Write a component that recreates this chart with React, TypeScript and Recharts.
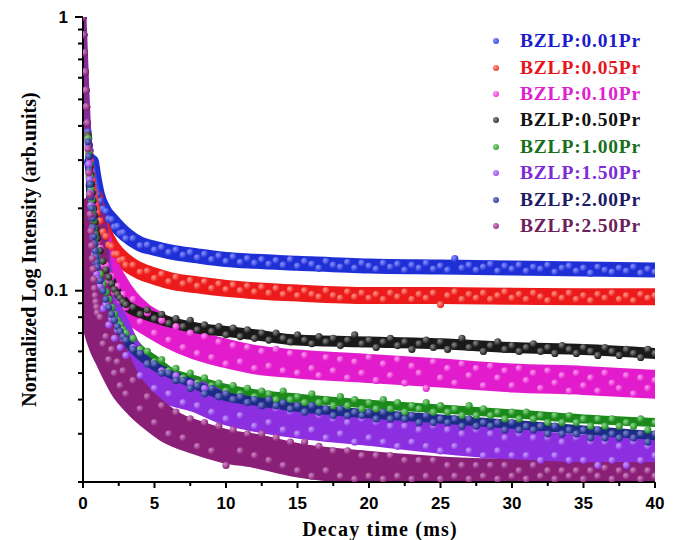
import React from 'react';
import { ComposedChart, Scatter, Line, XAxis, YAxis, Legend } from 'recharts';

// sampling times (ms) of the decay curves
const TIMES = [
  0, 0.05, 0.1, 0.15, 0.2, 0.25, 0.3, 0.35, 0.4, 0.45, 0.5, 0.55, 0.6, 0.65, 0.7, 0.75, 0.8, 0.85, 0.9, 0.95, 1,
  1.2, 1.4, 1.6, 1.8, 2, 2.2, 2.4, 2.6, 2.8, 3,
  3.5, 4, 4.5, 5, 5.5, 6, 6.5, 7, 7.5, 8,
  8.5, 9, 9.5, 10, 10.5, 11, 11.5, 12, 12.5, 13,
  13.5, 14, 14.5, 15, 15.5, 16, 16.5, 17, 17.5, 18,
  18.5, 19, 19.5, 20, 20.5, 21, 21.5, 22, 22.5, 23,
  23.5, 24, 24.5, 25, 25.5, 26, 26.5, 27, 27.5, 28,
  28.5, 29, 29.5, 30, 30.5, 31, 31.5, 32, 32.5, 33,
  33.5, 34, 34.5, 35, 35.5, 36, 36.5, 37, 37.5, 38,
  38.5, 39, 39.5, 40,
];

// all samples share the same first fast drop
const EARLY_DECAY = [1, 0.86, 0.74, 0.63, 0.54, 0.47, 0.41];

const PR_001 = [
  ...EARLY_DECAY,
  0.38, 0.36, 0.34, 0.325, 0.31, 0.295, 0.283, 0.272, 0.262, 0.253, 0.245, 0.238, 0.231, 0.225,
  0.213, 0.199, 0.195, 0.183, 0.182, 0.171, 0.172, 0.162, 0.163, 0.155,
  0.155, 0.146, 0.147, 0.141, 0.144, 0.138, 0.141, 0.135, 0.138, 0.132,
  0.136, 0.13, 0.134, 0.128, 0.133, 0.127, 0.131, 0.126, 0.13, 0.125,
  0.129, 0.124, 0.13, 0.123, 0.128, 0.125, 0.121, 0.128, 0.124, 0.122,
  0.127, 0.121, 0.126, 0.123, 0.12, 0.126, 0.122, 0.125, 0.119, 0.124,
  0.121, 0.126, 0.12, 0.123, 0.119, 0.131, 0.121, 0.124, 0.119, 0.122,
  0.125, 0.118, 0.123, 0.12, 0.124, 0.118, 0.122, 0.12, 0.124, 0.117,
  0.121, 0.123, 0.118, 0.121, 0.116, 0.122, 0.119, 0.117, 0.121, 0.118,
  0.122, 0.116, 0.12, 0.117,
];

const PR_005 = [
  ...EARLY_DECAY,
  0.37, 0.345, 0.32, 0.3, 0.282, 0.266, 0.252, 0.24, 0.23, 0.22, 0.212, 0.205, 0.199, 0.193,
  0.18, 0.164, 0.158, 0.147, 0.145, 0.136, 0.136, 0.129, 0.13, 0.124,
  0.124, 0.117, 0.118, 0.111, 0.115, 0.108, 0.112, 0.106, 0.109, 0.104,
  0.108, 0.102, 0.106, 0.101, 0.105, 0.1, 0.104, 0.099, 0.103, 0.098,
  0.102, 0.097, 0.101, 0.096, 0.1, 0.097, 0.095, 0.1, 0.096, 0.094,
  0.099, 0.095, 0.098, 0.094, 0.097, 0.093, 0.098, 0.095, 0.099, 0.093,
  0.097, 0.094, 0.098, 0.089, 0.096, 0.099, 0.093, 0.097, 0.094, 0.098,
  0.093, 0.096, 0.099, 0.094, 0.097, 0.093, 0.098, 0.095, 0.092, 0.097,
  0.094, 0.098, 0.093, 0.096, 0.092, 0.097, 0.094, 0.098, 0.093, 0.096,
  0.092, 0.097, 0.094, 0.096,
];

const PR_010 = [
  ...EARLY_DECAY,
  0.36, 0.33, 0.305, 0.28, 0.26, 0.24, 0.222, 0.207, 0.194, 0.183, 0.173, 0.165, 0.158, 0.152,
  0.143, 0.124, 0.124, 0.109, 0.113, 0.099, 0.104, 0.092, 0.097, 0.087,
  0.093, 0.077, 0.083, 0.07, 0.078, 0.066, 0.074, 0.062, 0.07, 0.059,
  0.068, 0.057, 0.065, 0.054, 0.063, 0.055, 0.062, 0.052, 0.06, 0.053,
  0.061, 0.051, 0.059, 0.05, 0.058, 0.052, 0.049, 0.057, 0.051, 0.056,
  0.048, 0.055, 0.05, 0.057, 0.047, 0.054, 0.049, 0.056, 0.046, 0.053,
  0.05, 0.044, 0.055, 0.048, 0.052, 0.046, 0.054, 0.049, 0.052, 0.045,
  0.053, 0.048, 0.051, 0.045, 0.052, 0.047, 0.05, 0.044, 0.051, 0.046,
  0.049, 0.043, 0.05, 0.045, 0.048, 0.043, 0.05, 0.046, 0.044, 0.049,
  0.042, 0.048, 0.044, 0.047,
];

const PR_050 = [
  ...EARLY_DECAY,
  0.37, 0.34, 0.31, 0.285, 0.265, 0.245, 0.228, 0.213, 0.2, 0.188, 0.178, 0.169, 0.161, 0.155,
  0.14, 0.128, 0.119, 0.112, 0.106, 0.101, 0.097, 0.094, 0.091, 0.089,
  0.087, 0.082, 0.085, 0.079, 0.082, 0.076, 0.079, 0.074, 0.078, 0.072,
  0.075, 0.071, 0.074, 0.069, 0.073, 0.068, 0.072, 0.067, 0.07, 0.066,
  0.07, 0.067, 0.065, 0.069, 0.066, 0.064, 0.068, 0.065, 0.067, 0.063,
  0.066, 0.069, 0.064, 0.066, 0.062, 0.065, 0.067, 0.063, 0.065, 0.061,
  0.064, 0.066, 0.062, 0.065, 0.061, 0.063, 0.067, 0.062, 0.064, 0.06,
  0.063, 0.065, 0.061, 0.063, 0.06, 0.062, 0.064, 0.06, 0.062, 0.059,
  0.063, 0.061, 0.059, 0.062, 0.06, 0.058, 0.062, 0.06, 0.058, 0.061,
  0.059, 0.057, 0.061, 0.059,
];

const PR_100 = [
  ...EARLY_DECAY,
  0.36, 0.32, 0.29, 0.26, 0.235, 0.215, 0.197, 0.182, 0.169, 0.158, 0.148, 0.14, 0.133, 0.127,
  0.115, 0.106, 0.099, 0.093, 0.087, 0.082, 0.078, 0.075, 0.072, 0.07,
  0.067, 0.061, 0.06, 0.055, 0.056, 0.051, 0.052, 0.048, 0.05, 0.046,
  0.048, 0.045, 0.046, 0.043, 0.045, 0.042, 0.044, 0.041, 0.043, 0.042,
  0.04, 0.043, 0.04, 0.041, 0.039, 0.042, 0.039, 0.04, 0.038, 0.041,
  0.038, 0.04, 0.037, 0.039, 0.037, 0.04, 0.037, 0.039, 0.036, 0.038,
  0.037, 0.039, 0.036, 0.038, 0.036, 0.037, 0.035, 0.038, 0.035, 0.037,
  0.035, 0.036, 0.034, 0.036, 0.034, 0.036, 0.034, 0.035, 0.033, 0.035,
  0.033, 0.035, 0.033, 0.034, 0.032, 0.034, 0.032, 0.034, 0.032, 0.033,
  0.032, 0.034, 0.031, 0.033,
];

const PR_150 = [
  ...EARLY_DECAY,
  0.34, 0.29, 0.255, 0.228, 0.205, 0.186, 0.17, 0.157, 0.146, 0.136, 0.128, 0.121, 0.115, 0.11,
  0.104, 0.086, 0.089, 0.075, 0.079, 0.067, 0.072, 0.062, 0.067, 0.058,
  0.062, 0.049, 0.054, 0.044, 0.051, 0.042, 0.049, 0.039, 0.046, 0.038,
  0.044, 0.036, 0.041, 0.034, 0.04, 0.035, 0.039, 0.032, 0.038, 0.033,
  0.037, 0.031, 0.036, 0.03, 0.036, 0.031, 0.035, 0.029, 0.034, 0.03,
  0.033, 0.028, 0.034, 0.029, 0.033, 0.028, 0.032, 0.027, 0.032, 0.028,
  0.031, 0.027, 0.032, 0.026, 0.031, 0.027, 0.03, 0.026, 0.031, 0.025,
  0.03, 0.026, 0.029, 0.025, 0.03, 0.025, 0.029, 0.024, 0.029, 0.025,
  0.028, 0.024, 0.029, 0.024, 0.028, 0.023, 0.028, 0.024, 0.027, 0.023,
  0.028, 0.024, 0.027, 0.025,
];

const PR_200 = [
  ...EARLY_DECAY,
  0.35, 0.31, 0.275, 0.245, 0.22, 0.2, 0.184, 0.17, 0.158, 0.148, 0.14, 0.133, 0.127, 0.122,
  0.109, 0.1, 0.093, 0.087, 0.082, 0.078, 0.074, 0.071, 0.068, 0.066,
  0.061, 0.059, 0.054, 0.054, 0.05, 0.05, 0.047, 0.047, 0.044, 0.045,
  0.042, 0.044, 0.041, 0.042, 0.04, 0.041, 0.039, 0.04, 0.038, 0.04,
  0.038, 0.039, 0.037, 0.038, 0.036, 0.038, 0.036, 0.037, 0.035, 0.037,
  0.035, 0.036, 0.035, 0.036, 0.034, 0.036, 0.034, 0.035, 0.034, 0.035,
  0.033, 0.035, 0.033, 0.034, 0.033, 0.034, 0.032, 0.034, 0.032, 0.033,
  0.032, 0.033, 0.031, 0.033, 0.031, 0.032, 0.031, 0.032, 0.03, 0.032,
  0.03, 0.031, 0.03, 0.031, 0.029, 0.031, 0.029, 0.03, 0.029, 0.03,
  0.029, 0.03, 0.028, 0.03,
];

const PR_250 = [
  ...EARLY_DECAY,
  0.33, 0.27, 0.225, 0.19, 0.165, 0.146, 0.131, 0.12, 0.11, 0.102, 0.096, 0.091, 0.087, 0.083,
  0.08, 0.064, 0.068, 0.056, 0.061, 0.05, 0.055, 0.045, 0.051, 0.042,
  0.047, 0.037, 0.041, 0.033, 0.038, 0.03, 0.036, 0.029, 0.034, 0.027,
  0.033, 0.026, 0.032, 0.023, 0.031, 0.026, 0.03, 0.025, 0.03, 0.024,
  0.029, 0.023, 0.028, 0.022, 0.028, 0.021, 0.027, 0.022, 0.026, 0.021,
  0.026, 0.0205, 0.025, 0.021, 0.025, 0.0205, 0.025, 0.021, 0.024, 0.0205,
  0.024, 0.021, 0.024, 0.0205, 0.023, 0.021, 0.023, 0.0205, 0.023, 0.021,
  0.023, 0.0205, 0.023, 0.021, 0.022, 0.0205, 0.023, 0.021, 0.022, 0.0205,
  0.022, 0.021, 0.022, 0.0205, 0.022, 0.021, 0.0225, 0.0205, 0.022, 0.021,
  0.022, 0.0205, 0.022, 0.021,
];

// the shared steep drop, where all the bands lie on top of each other
const STRIP_TIMES = [0, 0.1, 0.2, 0.3, 0.4];
const STRIP_VALUES = [1, 0.74, 0.54, 0.41, 0.33];

// centre of each dense band of points, read at a few times (null: band not yet apart from the strip)
const BAND_TIMES = [0.4, 0.5, 0.6, 0.8, 1, 1.5, 2, 3, 4, 5, 6, 8, 10, 12, 15, 20, 25, 30, 35, 40];
const BAND_001 = [null, null, 0.295, 0.253, 0.225, 0.195, 0.181, 0.16, 0.148, 0.143, 0.139, 0.134, 0.13, 0.128, 0.126, 0.123, 0.122, 0.121, 0.12, 0.119];
const BAND_005 = [null, null, null, 0.22, 0.193, 0.16, 0.144, 0.127, 0.118, 0.113, 0.109, 0.105, 0.102, 0.1, 0.098, 0.096, 0.096, 0.0955, 0.095, 0.095];
const BAND_010 = [null, null, null, null, 0.152, 0.123, 0.109, 0.091, 0.081, 0.075, 0.07, 0.063, 0.059, 0.056, 0.054, 0.052, 0.05, 0.048, 0.047, 0.0455];
const BAND_050 = [null, null, 0.245, 0.188, 0.155, 0.123, 0.106, 0.089, 0.083, 0.08, 0.077, 0.073, 0.071, 0.069, 0.066, 0.065, 0.064, 0.062, 0.061, 0.059];
const BAND_100 = [null, 0.26, 0.215, 0.158, 0.127, 0.102, 0.087, 0.07, 0.061, 0.056, 0.051, 0.047, 0.044, 0.042, 0.0405, 0.0385, 0.037, 0.0355, 0.034, 0.033];
const BAND_150 = [null, null, 0.186, 0.136, 0.11, 0.087, 0.077, 0.06, 0.051, 0.047, 0.044, 0.041, 0.037, 0.035, 0.033, 0.031, 0.029, 0.0275, 0.026, 0.0255];
const BAND_200 = [null, 0.245, 0.2, 0.148, 0.122, 0.096, 0.082, 0.066, 0.058, 0.053, 0.05, 0.045, 0.041, 0.0395, 0.0375, 0.0355, 0.034, 0.0325, 0.031, 0.0295];
const BAND_250 = [null, 0.19, 0.146, 0.102, 0.083, 0.065, 0.057, 0.045, 0.039, 0.035, 0.032, 0.029, 0.027, 0.026, 0.024, 0.0225, 0.0215, 0.021, 0.0205, 0.0205];

const X_TICKS = [0, 2.5, 5, 7.5, 10, 12.5, 15, 17.5, 20, 22.5, 25, 27.5, 30, 32.5, 35, 37.5, 40];
const Y_TICKS = [0.02, 0.03, 0.04, 0.05, 0.06, 0.07, 0.08, 0.09, 0.1, 0.2, 0.3, 0.4, 0.5, 0.6, 0.7, 0.8, 0.9, 1];

const SERIES = [
  { name: 'BZLP:0.01Pr', values: PR_001, band: BAND_001, width: 15, color: '#1f2fd6', light: '#8c95ff', text: '#1c1ccc' },
  { name: 'BZLP:0.05Pr', values: PR_005, band: BAND_005, width: 17, color: '#ec1a1a', light: '#ff9a8a', text: '#e8141c' },
  { name: 'BZLP:0.10Pr', values: PR_010, band: BAND_010, width: 29, color: '#e21ccc', light: '#ff9cf0', text: '#e021d0' },
  { name: 'BZLP:0.50Pr', values: PR_050, band: BAND_050, width: 11, color: '#1a1a1a', light: '#8a8a8a', text: '#111111' },
  { name: 'BZLP:1.00Pr', values: PR_100, band: BAND_100, width: 9, color: '#1b8a1b', light: '#8fd88f', text: '#1a701a' },
  { name: 'BZLP:1.50Pr', values: PR_150, band: BAND_150, width: 32, color: '#8b2fe0', light: '#c9a0ff', text: '#7d2bd6' },
  { name: 'BZLP:2.00Pr', values: PR_200, band: BAND_200, width: 9, color: '#1c2b86', light: '#7f8ad0', text: '#1b1b66' },
  { name: 'BZLP:2.50Pr', values: PR_250, band: BAND_250, width: 34, color: '#8a1f78', light: '#d08ac4', text: '#6e1f5c' },
];

const SANS = '"Liberation Sans", Arial, sans-serif';
const SERIF = '"Liberation Serif", "Times New Roman", serif';

const toPoints = (times: number[], values: (number | null)[]) =>
  times.map((t, i) => ({ t, v: values[i] })).filter((p) => p.v != null);

const makeDot = (id: string) => (props: any) => {
  if (props.cx == null || props.cy == null) return <g />;
  return <circle cx={props.cx} cy={props.cy} r={3.6} fill={`url(#${id})`} />;
};

const XTick = ({ x, y, payload }: any) => {
  const major = payload.value % 5 === 0;
  return (
    <g>
      <line x1={x} x2={x} y1={y} y2={y + (major ? 6 : 4)} stroke="#000" strokeWidth={2} />
      {major && (
        <text x={x} y={y + 21.5} textAnchor="middle" dominantBaseline="central"
          fontFamily={SANS} fontWeight="bold" fontSize={17} fill="#000">
          {payload.value}
        </text>
      )}
    </g>
  );
};

const YTick = ({ x, y, payload }: any) => {
  const major = payload.value === 1 || payload.value === 0.1;
  return (
    <g>
      <line x1={x - (major ? 8 : 5)} x2={x} y1={y} y2={y} stroke="#000" strokeWidth={2} />
      {major && (
        <text x={x - 15} y={y} textAnchor="end" dominantBaseline="central"
          fontFamily={SANS} fontWeight="bold" fontSize={17} fill="#000">
          {payload.value}
        </text>
      )}
    </g>
  );
};

const LegendBox = () => (
  <div style={{ fontFamily: SERIF, fontWeight: 'bold', fontSize: 19.5 }}>
    {SERIES.map((s) => (
      <div key={s.name} style={{ height: 26.4, display: 'flex', alignItems: 'center' }}>
        <span style={{
          width: 6, height: 6, borderRadius: '50%', flex: 'none',
          background: `radial-gradient(circle at 35% 35%, ${s.light}, ${s.color})`,
          marginLeft: 13, marginRight: 21,
        }} />
        <span style={{ color: s.text, letterSpacing: 0.8, whiteSpace: 'nowrap' }}>{s.name}</span>
      </div>
    ))}
  </div>
);

export default function App() {
  return (
    <div style={{ position: 'absolute', left: 0, top: 0, width: 677, height: 540, background: '#fff' }}>
      <svg width={0} height={0} style={{ position: 'absolute' }}>
        <defs>
          {SERIES.map((s, i) => (
            <radialGradient key={s.name} id={`ball-${i}`} cx="35%" cy="35%" r="65%">
              <stop offset="0%" stopColor={s.light} />
              <stop offset="100%" stopColor={s.color} />
            </radialGradient>
          ))}
        </defs>
      </svg>
      <ComposedChart width={677} height={540} margin={{ top: 17, right: 22, bottom: 0, left: 0 }}>
        <XAxis
          dataKey="t" type="number" domain={[0, 40]} ticks={X_TICKS} interval={0} allowDataOverflow
          height={58} tickSize={0} tickMargin={0} tickLine={false} tick={<XTick />}
          axisLine={{ stroke: '#000', strokeWidth: 2 }}
          label={{
            content: (p: any) => (
              <text x={p.viewBox.x + p.viewBox.width / 2 + 11} y={p.viewBox.y + 47} textAnchor="middle"
                dominantBaseline="central" fontFamily={SERIF} fontWeight="bold" fontSize={20}
                letterSpacing={1.2} fill="#000">
                Decay time (ms)
              </text>
            ),
          }}
        />
        <XAxis xAxisId="top" orientation="top" type="number" domain={[0, 40]} height={0}
          tick={false} tickLine={false} axisLine={{ stroke: '#000', strokeWidth: 2 }} />
        <YAxis
          dataKey="v" type="number" scale="log" domain={[0.02, 1]} allowDataOverflow
          ticks={Y_TICKS} interval={0} width={83} tickSize={0} tickMargin={0} tickLine={false}
          tick={<YTick />} axisLine={{ stroke: '#000', strokeWidth: 2 }}
          label={{
            content: (p: any) => {
              const cx = p.viewBox.x + 28.5;
              const cy = p.viewBox.y + p.viewBox.height / 2;
              return (
                <text x={cx} y={cy} transform={`rotate(-90 ${cx} ${cy})`} textAnchor="middle"
                  dominantBaseline="central" fontFamily={SERIF} fontWeight="bold" fontSize={20}
                  fill="#000">
                  Normalized Log Intensity (arb.units)
                </text>
              );
            },
          }}
        />
        <YAxis yAxisId="right" orientation="right" width={0} tick={false} tickLine={false}
          axisLine={{ stroke: '#000', strokeWidth: 2 }} />
        <Legend layout="vertical" align="center" verticalAlign="middle" content={<LegendBox />}
          wrapperStyle={{ left: 480, top: 28, width: 190, height: 212 }} />
        {SERIES.flatMap((s, i) => [
          <Line key={`band-${s.name}`} data={toPoints(BAND_TIMES, s.band)} dataKey="v" type="monotone"
            stroke={s.color} strokeWidth={s.width} strokeLinecap="round" strokeLinejoin="round"
            dot={false} activeDot={false} legendType="none" isAnimationActive={false} />,
          <Scatter key={`pts-${s.name}`} name={s.name} data={toPoints(TIMES, s.values)} dataKey="v"
            shape={makeDot(`ball-${i}`)} isAnimationActive={false} />,
        ])}
        <Line key="strip" data={toPoints(STRIP_TIMES, STRIP_VALUES)} dataKey="v" type="monotone"
          stroke="#8a2a98" strokeWidth={7} strokeLinecap="butt" strokeLinejoin="round"
          dot={false} activeDot={false} legendType="none" isAnimationActive={false} />
      </ComposedChart>
    </div>
  );
}
